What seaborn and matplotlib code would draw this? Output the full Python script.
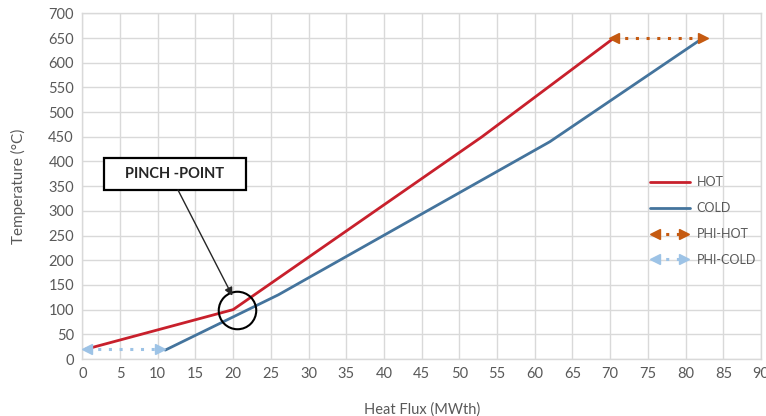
import matplotlib
matplotlib.use("Agg")
import matplotlib.pyplot as plt
import seaborn as sns
import pandas as pd
from matplotlib.lines import Line2D
from matplotlib.patches import Rectangle
from matplotlib.legend_handler import HandlerBase

# ---- data ----
hot_x = [0.5, 20, 53, 70.5]
hot_y = [20, 100, 450, 650]
cold_x = [11, 26, 62, 82.3]
cold_y = [18, 130, 440, 650]
phi_hot_x = [70.5, 82.3]
phi_hot_y = [650, 650]
phi_cold_x = [0.6, 10.3]
phi_cold_y = [20, 20]
x_ticks = list(range(0, 95, 5))
y_ticks = list(range(0, 750, 50))
series_labels = ["HOT", "COLD", "PHI-HOT", "PHI-COLD"]

HOT_C = "#C8202C"
COLD_C = "#44749D"
PHIH_C = "#C55A11"
PHIC_C = "#9DC3E6"
TXT = "#595959"

sns.set_theme(style="whitegrid")
plt.rcParams["font.family"] = ["Lato", "DejaVu Sans"]

fig = plt.figure(figsize=(7.66, 4.16), dpi=100)
ax = fig.add_axes([0.1074, 0.137, 0.8861, 0.831])

hot_df = pd.DataFrame({"x": hot_x, "y": hot_y})
cold_df = pd.DataFrame({"x": cold_x, "y": cold_y})
phih_df = pd.DataFrame({"x": phi_hot_x, "y": phi_hot_y})
phic_df = pd.DataFrame({"x": phi_cold_x, "y": phi_cold_y})

sns.lineplot(data=hot_df, x="x", y="y", ax=ax, color=HOT_C, lw=2, sort=False, zorder=3)
sns.lineplot(data=cold_df, x="x", y="y", ax=ax, color=COLD_C, lw=2, sort=False, zorder=3)

for df, c in [(phih_df, PHIH_C), (phic_df, PHIC_C)]:
    sns.lineplot(data=df, x="x", y="y", ax=ax, color=c, lw=2.2, ls=(0, (1, 2.5)),
                 sort=False, zorder=4)
    ax.plot([df["x"].iloc[0]], [df["y"].iloc[0]], marker="<", ms=7, color=c,
            ls="none", zorder=5, mec=c)
    ax.plot([df["x"].iloc[-1]], [df["y"].iloc[-1]], marker=">", ms=7, color=c,
            ls="none", zorder=5, mec=c)

ax.set_xlim(0, 90)
ax.set_ylim(0, 700)
ax.set_xticks(x_ticks)
ax.set_yticks(y_ticks)
ax.grid(True, color="#D9D9D9", lw=1)
for s in ax.spines.values():
    s.set_color("#D9D9D9")
    s.set_linewidth(1)
ax.tick_params(axis="both", length=0, colors=TXT, labelsize=10.5, pad=6)
ax.set_xlabel("Heat Flux (MWth)", color=TXT, fontsize=10.5, labelpad=15)
ax.set_ylabel("Temperature (°C)", color=TXT, fontsize=11, labelpad=16)

# pinch point annotation
ax.plot([20.5], [99], marker="o", ms=27, mfc="none", mec="black", mew=1.5,
        ls="none", zorder=6)
ax.add_patch(Rectangle((2.9, 342), 18.8, 65, fc="white", ec="black", lw=1.6, zorder=7))
ax.annotate("PINCH -POINT", xy=(19.9, 128), xytext=(12.3, 374.5),
            ha="center", va="center", fontsize=10.5, fontweight="bold", color="#262626",
            zorder=8)
ax.annotate("", xy=(19.9, 128), xytext=(12.7, 342),
            arrowprops=dict(arrowstyle="-|>", color="#262626", lw=1, mutation_scale=12,
                            shrinkA=0, shrinkB=0),
            zorder=8)


class ArrowHandler(HandlerBase):
    def __init__(self, color):
        super().__init__()
        self.color = color

    def create_artists(self, legend, orig_handle, xdescent, ydescent, width, height,
                       fontsize, trans):
        y = height / 2 - ydescent
        x0, x1 = -xdescent + 4, -xdescent + width - 4
        line = Line2D([x0, x1], [y, y], color=self.color, lw=2.2, ls=(0, (1, 2.5)))
        m1 = Line2D([x0], [y], marker="<", ms=7, color=self.color, ls="none")
        m2 = Line2D([x1], [y], marker=">", ms=7, color=self.color, ls="none")
        for a in (line, m1, m2):
            a.set_transform(trans)
        return [line, m1, m2]


h_hot = Line2D([], [], color=HOT_C, lw=2)
h_cold = Line2D([], [], color=COLD_C, lw=2)
h_ph = Line2D([], [], color=PHIH_C)
h_pc = Line2D([], [], color=PHIC_C)
leg = ax.legend([h_hot, h_cold, h_ph, h_pc], series_labels,
                loc="upper left", bbox_to_anchor=(0.836, 0.528), frameon=False,
                fontsize=9, handlelength=3.2, handletextpad=0.55, labelspacing=1.1,
                borderpad=0, borderaxespad=0,
                handler_map={h_ph: ArrowHandler(PHIH_C), h_pc: ArrowHandler(PHIC_C)})
for t in leg.get_texts():
    t.set_color(TXT)

fig.savefig("out.png", dpi=100)
